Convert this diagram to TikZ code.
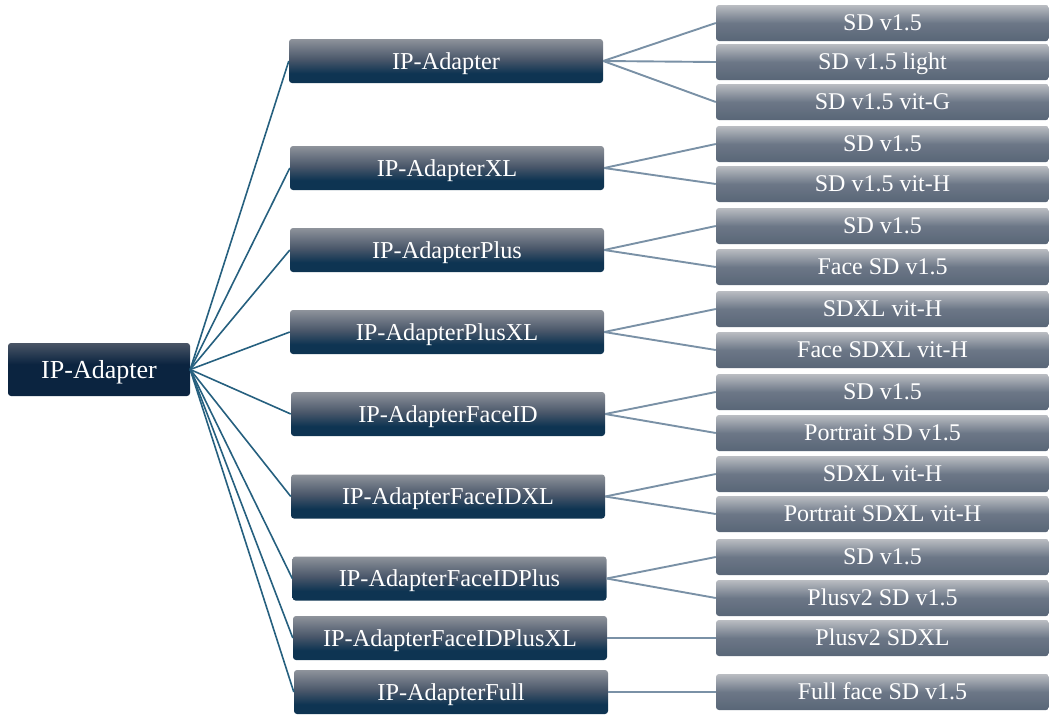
\documentclass[tikz,border=0pt]{standalone}
\usepackage{fontspec}
\setmainfont{Liberation Serif}
\definecolor{rootline}{HTML}{26607F}
\definecolor{leafline}{HTML}{7A91A6}
\definecolor{lonetop}{HTML}{8E939B}
\definecolor{lonemid}{HTML}{4A576A}
\definecolor{lonebot}{HTML}{0E3452}
\definecolor{roottop}{HTML}{4A5566}
\definecolor{rootbot}{HTML}{0B2440}
\definecolor{leaftop}{HTML}{BABDC2}
\definecolor{leafmid}{HTML}{6C7787}
\definecolor{leafbot}{HTML}{596677}
\pgfdeclareverticalshading{lonesh}{100bp}{color(0bp)=(lonebot); color(25bp)=(lonebot); color(36bp)=(lonebot); color(52bp)=(lonemid); color(75bp)=(lonetop); color(100bp)=(lonetop)}
\pgfdeclareverticalshading{rootsh}{100bp}{color(0bp)=(rootbot); color(25bp)=(rootbot); color(55bp)=(rootbot); color(75bp)=(roottop); color(100bp)=(roottop)}
\pgfdeclareverticalshading{leafsh}{100bp}{color(0bp)=(leafbot); color(25bp)=(leafbot); color(50bp)=(leafmid); color(75bp)=(leaftop); color(100bp)=(leaftop)}
\begin{document}
\begin{tikzpicture}[x=1pt,y=-1pt,
  base/.style={rounded corners=3pt, inner sep=0pt, text=white, align=center, text depth=0pt, shade},
  rootbox/.style={base, shading=rootsh, minimum width=182pt, minimum height=53pt, text height=17.2pt, font=\fontsize{26}{30}\selectfont},
  lone/.style={base, shading=lonesh, minimum width=314pt, minimum height=44pt, text height=16pt, font=\fontsize{24.3}{28}\selectfont},
  leaf/.style={base, shading=leafsh, minimum width=333pt, minimum height=36pt, text height=15.8pt, font=\fontsize{24}{28}\selectfont},
  rootedge/.style={draw=rootline, line width=1.6pt},
  leafedge/.style={draw=leafline, line width=1.9pt}]
\useasboundingbox (0,0) rectangle (1049,715);

\node[rootbox] (root) at (99,369.5) {IP-Adapter};

\node[lone] (a) at (446,61) {IP-Adapter};
\node[lone] (b) at (447,168) {IP-AdapterXL};
\node[lone] (c) at (447,250) {IP-AdapterPlus};
\node[lone] (d) at (447,332) {IP-AdapterPlusXL};
\node[lone] (e) at (448,414) {IP-AdapterFaceID};
\node[lone] (f) at (448,496.5) {IP-AdapterFaceIDXL};
\node[lone] (g) at (449.5,578.5) {IP-AdapterFaceIDPlus};
\node[lone] (h) at (450,638) {IP-AdapterFaceIDPlusXL};
\node[lone] (i) at (451,692) {IP-AdapterFull};

\node[leaf] (a1) at (882.5,23) {SD v1.5};
\node[leaf] (a2) at (882.5,62) {SD v1.5 light};
\node[leaf] (a3) at (882.5,102) {SD v1.5 vit-G};
\node[leaf] (b1) at (882.5,144) {SD v1.5};
\node[leaf] (b2) at (882.5,184) {SD v1.5 vit-H};
\node[leaf] (c1) at (882.5,226) {SD v1.5};
\node[leaf] (c2) at (882.5,267) {Face SD v1.5};
\node[leaf] (d1) at (882.5,309) {SDXL vit-H};
\node[leaf] (d2) at (882.5,350) {Face SDXL vit-H};
\node[leaf] (e1) at (882.5,392) {SD v1.5};
\node[leaf] (e2) at (882.5,433) {Portrait SD v1.5};
\node[leaf] (f1) at (882.5,474) {SDXL vit-H};
\node[leaf] (f2) at (882.5,514) {Portrait SDXL vit-H};
\node[leaf] (g1) at (882.5,557) {SD v1.5};
\node[leaf] (g2) at (882.5,598) {Plusv2 SD v1.5};
\node[leaf] (h1) at (882.5,638) {Plusv2 SDXL};
\node[leaf] (i1) at (882.5,692) {Full face SD v1.5};

\foreach \n in {a,b,c,d,e,f,g,h,i}
  \draw[rootedge] (root.east) -- (\n.west);

\foreach \p/\q in {a/a1,a/a2,a/a3,b/b1,b/b2,c/c1,c/c2,d/d1,d/d2,e/e1,e/e2,f/f1,f/f2,g/g1,g/g2,h/h1,i/i1}
  \draw[leafedge] (\p.east) -- (\q.west);
\end{tikzpicture}
\end{document}
